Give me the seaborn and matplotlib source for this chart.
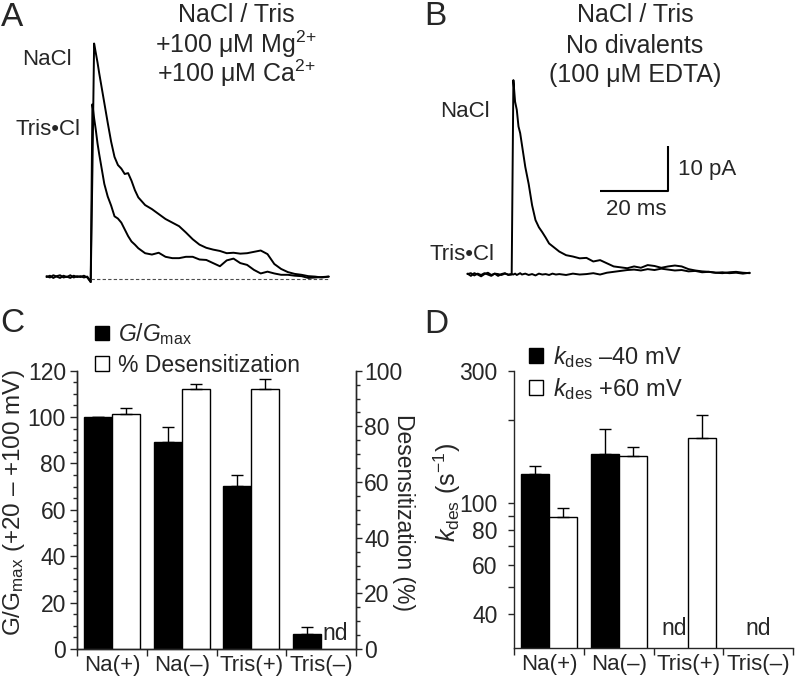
import matplotlib
matplotlib.use("Agg")
import matplotlib.pyplot as plt
import seaborn as sns
import numpy as np
import pandas as pd
from matplotlib.patches import Patch
from matplotlib.ticker import MultipleLocator, NullFormatter

# time axis shared by all current traces (ms, 0 = agonist onset)
t_ms = [-13, -12, -11, -10, -9, -8, -7, -6, -5, -4, -3, -2, -1, 0,
        0.5, 1, 1.5, 2, 2.5, 3,
        4, 5, 6, 7, 8, 9, 10, 11, 12, 13, 14,
        16, 18, 20, 22, 24, 26, 28, 30, 32, 34, 36, 38, 40, 42,
        44, 46, 48, 50, 52, 54, 56, 58, 60, 62, 64, 66, 68, 70]

# panel A currents (pA), + Mg/Ca
a_nacl = [0.7, 0.4, 0.9, 0.6, 0.3, 0.8, 0.5, 0.9, 0.4, 0.7, 0.5, 0.8, 0.4, -0.6,
          24.0, 52.4, 50.3, 48.2, 45.8, 43.6,
          39.2, 34.8, 30.6, 27.2, 25.4, 24.6, 23.4, 23.6, 21.9, 19.8, 18.2,
          16.5, 15.6, 14.5, 13.4, 12.6, 11.8, 10.4, 8.9, 7.7, 7.0, 6.6, 6.3, 5.8, 5.9,
          5.7, 5.8, 6.1, 6.4, 5.6, 3.4, 2.3, 1.6, 1.2, 1.0, 0.7, 0.6, 0.4, 0.6]
a_tris = [0.5, 0.8, 0.3, 0.7, 0.9, 0.4, 0.6, 0.3, 0.8, 0.5, 0.7, 0.4, 0.6, -0.6,
          38.9, 35.8, 33.2, 30.2, 27.8, 25.6,
          21.2, 18.4, 16.4, 14.0, 13.5, 12.6, 11.1, 9.6, 8.4, 7.7, 6.9,
          5.8, 5.5, 5.9, 5.0, 4.7, 4.7, 5.0, 5.0, 4.4, 4.3, 3.6, 2.9, 4.2, 4.6,
          3.6, 3.2, 2.1, 1.3, 1.7, 1.3, 1.0, 1.0, 0.8, 0.7, 0.3, 0.4, 0.5, 0.6]

# panel B currents (pA), no divalents
b_nacl = [0.3, -0.2, 0.4, 0.1, -0.3, 0.2, 0.5, 0.0, 0.3, -0.2, 0.2, 0.4, 0.0, 0.1,
          43.3, 38.5, 36.7, 33.0, 31.5, 29.0,
          24.0, 20.2, 15.5, 12.2, 10.6, 9.5, 8.3, 7.0, 6.4, 5.8, 5.2,
          4.4, 4.1, 3.7, 3.8, 3.0, 3.3, 2.6, 1.9, 1.7, 1.5, 1.9, 1.6, 2.2, 2.0,
          1.6, 1.9, 2.1, 1.9, 1.3, 1.0, 0.8, 0.7, 0.5, 0.4, 0.6, 0.7, 0.5, 0.4]
b_tris = [0.2, 0.4, -0.1, 0.3, 0.0, 0.4, 0.1, -0.2, 0.3, 0.2, 0.0, 0.3, 0.1, 0.2,
          0.1, 0.3, 0.0, 0.2, 0.4, 0.1,
          0.3, 0.0, 0.2, -0.1, 0.3, 0.1, 0.2, 0.0, 0.3, 0.1, 0.2,
          0.0, 0.3, 0.1, 0.2, 0.4, 0.1, 0.5, 0.7, 0.9, 1.1, 1.2, 1.0, 1.3, 1.1,
          1.4, 1.2, 1.0, 1.1, 0.8, 0.9, 0.6, 0.7, 0.5, 0.6, 0.4, 0.5, 0.3, 0.5]

scale_ms = 20
scale_pA = 10

groups = ["Na(+)", "Na(–)", "Tris(+)", "Tris(–)"]

# panel C
g_gmax = [100, 89.2, 70.2, 6.3]
g_gmax_err = [0, 6.6, 4.8, 3.3]
desens = [84.3, 93.3, 93.3, np.nan]
desens_err = [2.4, 2.1, 3.6, np.nan]

# panel D (s^-1)
kdes_m40 = [127.5, 150.0, np.nan, np.nan]
kdes_m40_err = [8.7, 34.6, np.nan, np.nan]
kdes_p60 = [89.1, 148.0, 171.8, np.nan]
kdes_p60_err = [6.9, 11.4, 35.2, np.nan]

sns.set_style("ticks")
plt.rcParams['font.family'] = ['Liberation Sans', 'DejaVu Sans']
plt.rcParams['mathtext.fontset'] = 'custom'
plt.rcParams['mathtext.rm'] = 'Liberation Sans'
plt.rcParams['mathtext.it'] = 'Liberation Sans:italic'
plt.rcParams['mathtext.bf'] = 'Liberation Sans:bold'
plt.rcParams['axes.linewidth'] = 1.0

W, H = 800, 681
fig = plt.figure(figsize=(8, 6.81), dpi=100)


def fx(px):
    return px / W


def fy(py):
    return 1 - py / H


def ftext(px, py, s, **kw):
    kw.setdefault('fontsize', 16)
    kw.setdefault('va', 'baseline')
    fig.text(fx(px), fy(py), s, **kw)


# ---------- A / B traces ----------
axA = fig.add_axes([0, fy(300), 0.5, 300 / H])
axB = fig.add_axes([0.5, fy(300), 0.5, 300 / H])

n = len(t_ms)
df_a = pd.DataFrame({'t': t_ms * 2, 'I': a_nacl + a_tris,
                     'salt': ['NaCl'] * n + ['Tris'] * n})
df_b = pd.DataFrame({'t': t_ms * 2, 'I': b_nacl + b_tris,
                     'salt': ['NaCl'] * n + ['Tris'] * n})

sns.lineplot(data=df_a, x='t', y='I', hue='salt', palette=['black', 'black'],
             errorbar=None, legend=False, lw=1.4, ax=axA)
sns.lineplot(data=df_b, x='t', y='I', hue='salt', palette=['black', 'black'],
             errorbar=None, legend=False, lw=1.4, ax=axB)
axA.hlines(0, 0, t_ms[-1], colors='0.3', linestyles=(0, (3, 2)), lw=0.8)

axA.set_xlim(-26.68, 90.97)
axA.set_ylim(-4.6, 62.07)
axB.set_xlim(-32.85, 84.8)
axB.set_ylim(-5.56, 61.1)
for ax in (axA, axB):
    ax.axis('off')

# scale bar
sb_t, sb_i = 46, 18.7
axB.plot([sb_t - scale_ms, sb_t, sb_t], [sb_i, sb_i, sb_i + scale_pA],
         color='black', lw=1.5, solid_capstyle='butt')

ftext(1, 26, "A", fontsize=24)
ftext(424, 25, "B", fontsize=24)
ftext(236, 22, "NaCl / Tris", ha='center', fontsize=18)
ftext(236, 53, r"+100 μM Mg$^{2{+}}$", ha='center', fontsize=18)
ftext(236, 82, r"+100 μM Ca$^{2{+}}$", ha='center', fontsize=18)
ftext(22, 65, "NaCl")
ftext(15, 135, "Tris•Cl")
ftext(635, 22, "NaCl / Tris", ha='center', fontsize=18)
ftext(635, 53, "No divalents", ha='center', fontsize=18)
ftext(635, 82, "(100 μM EDTA)", ha='center', fontsize=18)
ftext(440, 117, "NaCl")
ftext(429, 260, "Tris•Cl")
ftext(678, 175, "10 pA")
ftext(636, 215, "20 ms", ha='center')

# ---------- C ----------
axC = fig.add_axes([77 / W, fy(649), 279 / W, 278.3 / H])
axC2 = axC.twinx()

df_c = pd.DataFrame({'group': groups * 2,
                     'series': ['G'] * 4 + ['D'] * 4,
                     'value': g_gmax + desens})
pal_c = {'G': 'black', 'D': 'white'}
# each series on its own y scale; the other series is kept as zero height so the
# dodge positions stay the same, and those empty bars are removed afterwards
c_left = df_c.assign(value=np.where(df_c.series == 'G', df_c.value, 0.0))
c_right = df_c.assign(value=np.where(df_c.series == 'D', df_c.value, 0.0)).dropna()
sns.barplot(data=c_left, x='group', y='value', hue='series',
            hue_order=['G', 'D'], order=groups, palette=pal_c, edgecolor='black',
            linewidth=1, errorbar=None, legend=False, ax=axC)
sns.barplot(data=c_right, x='group', y='value', hue='series',
            hue_order=['G', 'D'], order=groups, palette=pal_c,
            edgecolor='black', linewidth=1, errorbar=None, legend=False, ax=axC2)
for ax in (axC, axC2):
    for p in list(ax.patches):
        if p.get_height() == 0:
            p.remove()

xi = np.arange(len(groups))
axC.errorbar(xi - 0.2, g_gmax, yerr=[np.zeros(4), g_gmax_err], fmt='none',
             ecolor='black', elinewidth=1, capsize=4, capthick=1)
axC2.errorbar(xi + 0.2, desens, yerr=[np.zeros(4), desens_err], fmt='none',
              ecolor='black', elinewidth=1, capsize=4, capthick=1)

axC.set_ylim(0, 120)
axC2.set_ylim(0, 100)
axC.yaxis.set_major_locator(MultipleLocator(20))
axC.yaxis.set_minor_locator(MultipleLocator(5))
axC2.yaxis.set_major_locator(MultipleLocator(20))
axC2.yaxis.set_minor_locator(MultipleLocator(5))
axC.set_ylabel(r"G/G$_{\rm max}$ (+20 – +100 mV)", fontsize=17.5)
axC.yaxis.set_label_coords(-0.179, 0.525)
axC2.set_ylabel("Desensitization (%)", fontsize=16.5, rotation=270, va='bottom')
axC2.yaxis.set_label_coords(1.13, 0.49)
axC.spines['top'].set_visible(False)
axC2.spines['top'].set_visible(False)
axC.text(3.2, 0.015, "nd", transform=axC.get_xaxis_transform(), ha='center',
         va='bottom', fontsize=16.5)
ftext(0, 332, "C", fontsize=24)

fig.legend(handles=[Patch(facecolor='black', edgecolor='black'),
                    Patch(facecolor='white', edgecolor='black')],
           labels=[r"$G/G_{\rm max}$", "% Desensitization"],
           loc='upper left', bbox_to_anchor=(fx(95), fy(321)), frameon=False,
           fontsize=16.5, handlelength=0.6, handleheight=0.6,
           handletextpad=0.4, labelspacing=0.3, borderpad=0, borderaxespad=0)

# ---------- D ----------
axD = fig.add_axes([514.3 / W, fy(648.3), 278.7 / W, 277.6 / H])
df_d = pd.DataFrame({'group': groups * 2,
                     'series': ['m40'] * 4 + ['p60'] * 4,
                     'value': kdes_m40 + kdes_p60})
sns.barplot(data=df_d.dropna(), x='group', y='value', hue='series',
            hue_order=['m40', 'p60'], order=groups,
            palette={'m40': 'black', 'p60': 'white'}, edgecolor='black',
            linewidth=1, errorbar=None, legend=False, ax=axD)
axD.errorbar(xi - 0.2, kdes_m40, yerr=[np.zeros(4), kdes_m40_err], fmt='none',
             ecolor='black', elinewidth=1, capsize=4, capthick=1)
axD.errorbar(xi + 0.2, kdes_p60, yerr=[np.zeros(4), kdes_p60_err], fmt='none',
             ecolor='black', elinewidth=1, capsize=4, capthick=1)
axD.set_yscale('log')
axD.set_ylim(30, 300)
axD.set_yticks([40, 60, 80, 100, 300], labels=['40', '60', '80', '100', '300'])
axD.set_yticks([50, 70, 90, 200], minor=True)
axD.yaxis.set_minor_formatter(NullFormatter())
axD.set_ylabel(r"$k_{\rm des}$ (s$^{-1}$)", fontsize=18)
axD.yaxis.set_label_coords(-0.185, 0.56)
axD.spines['top'].set_visible(False)
axD.spines['right'].set_visible(False)
axD.text(1.8, 0.03, "nd", transform=axD.get_xaxis_transform(), ha='center',
         va='bottom', fontsize=16.5)
axD.text(3.0, 0.03, "nd", transform=axD.get_xaxis_transform(), ha='center',
         va='bottom', fontsize=16.5)
ftext(424, 333, "D", fontsize=24)

fig.legend(handles=[Patch(facecolor='black', edgecolor='black'),
                    Patch(facecolor='white', edgecolor='black')],
           labels=[r"$k_{\rm des}$ –40 mV", r"$k_{\rm des}$ +60 mV"],
           loc='upper left', bbox_to_anchor=(fx(529), fy(344)), frameon=False,
           fontsize=17, handlelength=0.6, handleheight=0.6,
           handletextpad=0.4, labelspacing=0.25, borderpad=0, borderaxespad=0)

# shared x-axis styling for bar panels
for ax in (axC, axD):
    ax.set_xlim(-0.5, 3.5)
    ax.set_xticks(np.arange(-0.5, 4, 1))
    ax.set_xticklabels([])
    ax.set_xticks(xi, labels=groups, minor=True)
    ax.set_xlabel("")
    ax.tick_params(axis='x', which='major', direction='out', length=5, width=1)
    ax.tick_params(axis='x', which='minor', length=0, pad=4, labelsize=16)

axC.tick_params(axis='y', which='major', direction='out', length=5, width=1,
                labelsize=16.5, pad=3)
axC.tick_params(axis='y', which='minor', direction='out', length=3, width=1)
axC2.tick_params(axis='y', which='major', direction='out', length=4, width=1,
                 labelsize=16.5, pad=2)
axC2.tick_params(axis='y', which='minor', direction='out', length=3, width=1)
axD.tick_params(axis='y', which='both', direction='out', length=4, width=1,
                labelsize=16.5, pad=8)

fig.savefig("out.png", dpi=100)
